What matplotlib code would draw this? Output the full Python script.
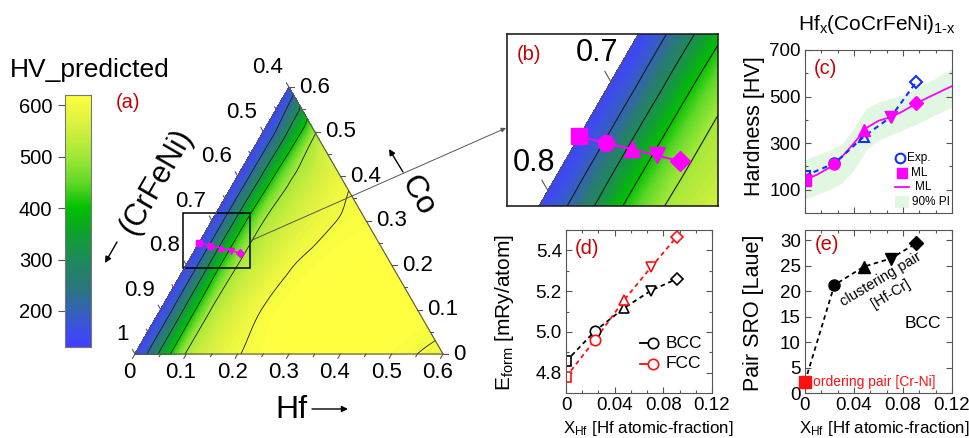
import numpy as np
import matplotlib
matplotlib.use('Agg')
import matplotlib.pyplot as plt
import matplotlib.tri as mtri
from matplotlib.colors import LinearSegmentedColormap, Normalize
from matplotlib.patches import Rectangle
from matplotlib.ticker import FixedLocator, AutoMinorLocator, NullFormatter, FixedFormatter

plt.rcParams['font.family'] = ['Liberation Sans', 'DejaVu Sans']
plt.rcParams['mathtext.fontset'] = 'custom'
plt.rcParams['mathtext.rm'] = 'Liberation Sans'
plt.rcParams['mathtext.it'] = 'Liberation Sans:italic'
plt.rcParams['mathtext.bf'] = 'Liberation Sans:bold'

# ---------------- data ----------------
x_hf = [0.0, 0.024, 0.048, 0.070, 0.091]          # Hf atomic fraction of the alloys
hv_exp = [160, 213, 328, 412, 564]
hv_ml = [140, 211, 355, 411, 471]
ml_x = [0.00, 0.01, 0.02, 0.03, 0.04, 0.05, 0.06, 0.07, 0.08, 0.09, 0.10, 0.11, 0.12]
ml_hv = [142, 165, 195, 240, 300, 365, 396, 412, 437, 468, 495, 520, 545]
pi_low = [60, 80, 100, 128, 185, 271, 312, 335, 357, 378, 405, 430, 457]
pi_high = [228, 250, 270, 295, 365, 450, 476, 492, 507, 532, 560, 590, 621]
ef_bcc = [4.855, 5.005, 5.118, 5.203, 5.260]
ef_fcc = [4.778, 4.962, 5.158, 5.318, 5.466]
sro_bcc = [2.2, 21.2, 24.8, 26.4, 29.4]

# predicted hardness map (rows: Co fraction, columns: Hf fraction; None = outside)
grid_hf = [0.0, 0.02, 0.04, 0.06, 0.08, 0.10, 0.15, 0.20, 0.25, 0.30, 0.35, 0.40, 0.45, 0.50, 0.55, 0.60]
grid_co = [0.0, 0.1, 0.2, 0.3, 0.4, 0.5, 0.6]
hv_map = [
    [140, 188, 278, 365, 440, 506, 566, 597, 614, 624, 630, 632, 625, 612, 600, 590],
    [140, 190, 280, 368, 442, 505, 565, 602, 618, 627, 631, 632, 628, 620, None, None],
    [140, 192, 283, 375, 446, 500, 555, 595, 612, 620, 622, 618, None, None, None, None],
    [140, 192, 282, 372, 444, 498, 550, 582, 602, 610, None, None, None, None, None, None],
    [140, 190, 275, 360, 430, 485, 545, 585, None, None, None, None, None, None, None, None],
    [140, 188, 270, 350, 420, 490, None, None, None, None, None, None, None, None, None, None],
    [140, None, None, None, None, None, None, None, None, None, None, None, None, None, None, None],
]
hv_levels = [200, 300, 400, 500, 600]

hf_ticks = [0.0, 0.1, 0.2, 0.3, 0.4, 0.5, 0.6]
hf_labels = ['0', '0.1', '0.2', '0.3', '0.4', '0.5', '0.6']
co_ticks = [0.0, 0.1, 0.2, 0.3, 0.4, 0.5, 0.6]
co_labels = ['0', '0.1', '0.2', '0.3', '0.4', '0.5', '0.6']
cfn_ticks = [0.4, 0.5, 0.6, 0.7, 0.8, 0.9, 1.0]
cfn_labels = ['0.4', '0.5', '0.6', '0.7', '0.8', '0.9', '1']

cb_ticks = [200, 300, 400, 500, 600]
xt = [0, 0.04, 0.08, 0.12]
xt_labels = ['0', '0.04', '0.08', '0.12']

# ---------------- styles ----------------
cmap_vals = [130, 160, 200, 250, 300, 350, 400, 450, 500, 560, 620]
cmap_cols = ['#4040ff', '#3c4ee8', '#3462b8', '#2a7878', '#1e8a5a', '#10a030',
             '#00c000', '#60d828', '#a0e838', '#d8f040', '#ffff40']
VMIN, VMAX = 130, 620
cmap = LinearSegmentedColormap.from_list(
    'hv', [((v - VMIN) / (VMAX - VMIN), c) for v, c in zip(cmap_vals, cmap_cols)])
cmap.set_over('#ffff40')
cmap.set_under('#4040ff')
norm = Normalize(VMIN, VMAX)
MAG = '#ff00ff'
BLUE = '#1030ff'
RED = '#ff1010'
LABRED = '#c80000'
markers = ['s', 'o', '^', 'v', 'D']

W, H = 970, 438
fig = plt.figure(figsize=(9.7, 4.38), dpi=100)

def px_rect(l, t, r, b):
    return [l / W, 1 - b / H, (r - l) / W, (b - t) / H]

def ftext(px, py, s, **kw):
    fig.text(px / W, 1 - py / H, s, **kw)

# ternary geometry: the triangle occupies px (135,354)-(443,354)-(289,88)
S = 308 / 0.6
X0, Y0 = 135, 354
SQ3 = np.sqrt(3) / 2

def txy(hf, co):
    return hf + co / 2, co * SQ3

def pd(px, py):
    return (px - X0) / S, (Y0 - py) / S

axT = fig.add_axes([0, 0, 1, 1])
axT.set_xlim(-X0 / S, (W - X0) / S)
axT.set_ylim((Y0 - H) / S, Y0 / S)
axT.axis('off')

# structured triangulation of the hardness map
idx = {}
px_, py_, pz_ = [], [], []
for i, co in enumerate(grid_co):
    for j, hf in enumerate(grid_hf):
        v = hv_map[i][j]
        if v is None:
            continue
        X, Y = txy(hf, co)
        idx[(i, j)] = len(px_)
        px_.append(X); py_.append(Y); pz_.append(v)
tris = []
ncol = len(grid_hf)
for i in range(len(grid_co) - 1):
    mi = max(j for j in range(ncol) if (i, j) in idx)
    mn = max(j for j in range(ncol) if (i + 1, j) in idx)
    for j in range(mn):
        tris.append([idx[(i, j)], idx[(i, j + 1)], idx[(i + 1, j)]])
        tris.append([idx[(i, j + 1)], idx[(i + 1, j + 1)], idx[(i + 1, j)]])
    for j in range(mn, mi):
        tris.append([idx[(i, j)], idx[(i, j + 1)], idx[(i + 1, mn)]])
tri = mtri.Triangulation(px_, py_, triangles=tris)
zz = np.array(pz_, float)
refiner = mtri.UniformTriRefiner(tri)
interp = mtri.CubicTriInterpolator(tri, zz, kind='geom')
tri_r, z_r = refiner.refine_field(zz, triinterpolator=interp, subdiv=4)

def draw_field(ax, clw):
    cs = ax.tricontourf(tri_r, z_r, levels=np.linspace(VMIN, VMAX, 70), cmap=cmap,
                        norm=norm, extend='both')
    cs.set_edgecolor('face')
    cs.set_linewidth(0.3)
    ax.tricontour(tri_r, z_r, levels=hv_levels, colors='#1a1a1a', linewidths=clw)
    ax.plot([0, 0.6, 0.3, 0], [0, 0, 0.6 * SQ3, 0], color='#555555', lw=0.8)
    for k in range(13):
        v = k * 0.05
        L = (5 if k % 2 == 0 else 3) / S
        X, Y = txy(v, 0)
        ax.plot([X, X - 0.5 * L], [Y, Y - SQ3 * L], color='#555555', lw=0.8)
        X, Y = txy(0.6 - v, v)
        ax.plot([X, X + L], [Y, Y], color='#555555', lw=0.8)
        X, Y = txy(0, v)
        ax.plot([X, X - 0.5 * L], [Y, Y + SQ3 * L], color='#555555', lw=0.8)

draw_field(axT, 0.6)

for v, lab in zip(hf_ticks, hf_labels):
    X, Y = txy(v, 0)
    axT.text(X - 5.5 / S, Y - 19 / S, lab, ha='center', va='center', fontsize=16)
for v, lab in zip(co_ticks, co_labels):
    X, Y = txy(0.6 - v, v)
    axT.text(X + 10 / S, Y, lab, ha='left', va='center', fontsize=16)
for c, lab in zip(cfn_ticks, cfn_labels):
    X, Y = txy(0, 1 - c)
    axT.text(X - 6 / S, Y + 19.5 / S, lab, ha='right', va='center', fontsize=16)

# composition path
tx = [txy(h, (1 - h) / 4)[0] for h in x_hf]
ty = [txy(h, (1 - h) / 4)[1] for h in x_hf]
axT.plot(tx, ty, color=MAG, lw=1.0)
for X, Y, m in zip(tx, ty, markers):
    axT.plot(X, Y, marker=m, color=MAG, ms=4.5, mec=MAG)

# zoom box and connector
bx0, by0 = pd(183, 268)
bx1, by1 = pd(250, 213)
axT.add_patch(Rectangle((bx0, by0), bx1 - bx0, by1 - by0, fill=False, ec='black', lw=1.1))
axT.annotate('', xy=pd(506, 128), xytext=pd(250, 241),
             arrowprops=dict(arrowstyle='-|>', color='#555555', lw=0.7, mutation_scale=7,
                             shrinkA=0, shrinkB=0))

# axis titles
arrow_kw = dict(arrowstyle='-|>', color='black', lw=1.0, mutation_scale=9, shrinkA=0, shrinkB=0)
axT.text(*pd(291, 410), 'Hf', ha='center', va='center', fontsize=23)
axT.annotate('', xy=pd(348, 409), xytext=pd(312, 409), arrowprops=arrow_kw)
axT.text(*pd(418, 196), 'Co', ha='center', va='center', fontsize=23, rotation=-60)
axT.annotate('', xy=pd(389, 149), xytext=pd(403, 172), arrowprops=arrow_kw)
axT.text(*pd(156, 182), '(CrFeNi)', ha='center', va='center', fontsize=22, rotation=60)
axT.annotate('', xy=pd(105, 263), xytext=pd(117, 242), arrowprops=arrow_kw)
axT.text(*pd(128, 103), '(a)', ha='center', va='center', fontsize=14.5, color=LABRED)

# colorbar (gradient image)
cax = fig.add_axes(px_rect(65, 95, 91, 347))
cax.imshow(np.linspace(VMIN, VMAX, 256)[:, None], aspect='auto', cmap=cmap, norm=norm,
           origin='lower', extent=[0, 1, VMIN, VMAX])
cax.set_xlim(0, 1)
cax.set_ylim(VMIN, VMAX)
cax.set_xticks([])
cax.yaxis.set_major_locator(FixedLocator(cb_ticks))
cax.yaxis.tick_left()
cax.tick_params(axis='y', direction='out', length=5, width=0.8, colors='#555555',
                labelcolor='black', labelsize=14.5, pad=4)
for s in cax.spines.values():
    s.set_color('#777777'); s.set_linewidth(0.8)
ftext(10, 70, 'HV_predicted', ha='left', va='center', fontsize=19)

# ---------------- panel (b) ----------------
axB = fig.add_axes(px_rect(507, 34, 718, 206))
draw_field(axB, 0.8)
axB.set_xlim(0.0674, 0.2351)
axB.set_ylim(0.1611, 0.2979)
axB.plot(tx, ty, color=MAG, lw=1.5)
for X, Y, m in zip(tx, ty, markers):
    axB.plot(X, Y, marker=m, color=MAG, ms=11.5 if m != 'D' else 10, mec=MAG)
axB.set_xticks([]); axB.set_yticks([])
for s in axB.spines.values():
    s.set_color('#222222'); s.set_linewidth(1.2)
axB.text((597 - 507) / 211, 1 - (53 - 34) / 172, '0.7', transform=axB.transAxes,
         ha='center', va='center', fontsize=22)
axB.text((534 - 507) / 211, 1 - (163 - 34) / 172, '0.8', transform=axB.transAxes,
         ha='center', va='center', fontsize=22)
axB.text((529 - 507) / 211, 1 - (55 - 34) / 172, '(b)', transform=axB.transAxes,
         ha='center', va='center', fontsize=14.5, color=LABRED)

def style_panel(ax):
    for s in ax.spines.values():
        s.set_color('#555555'); s.set_linewidth(0.8)
    ax.tick_params(which='both', direction='in', top=True, right=True, colors='#555555',
                   labelcolor='black', labelsize=13.5, pad=3, width=0.8)
    ax.tick_params(which='major', length=4)
    ax.tick_params(which='minor', length=2)

def afrac(rect, px, py):
    l, t, r, b = rect
    return (px - l) / (r - l), (b - py) / (b - t)

# ---------------- panel (c) ----------------
rc = (805, 50, 952, 213)
axC = fig.add_axes(px_rect(*rc))
axC.fill_between(ml_x, pi_low, pi_high, color='#e2f7e2', lw=0)
axC.plot(ml_x, ml_hv, color=MAG, lw=1.3)
axC.plot(x_hf, hv_exp, color=BLUE, lw=1.5, ls=(0, (2.5, 2)))
for x, y, m in zip(x_hf, hv_exp, markers):
    axC.plot(x, y, marker=m, ms=7.5 if m != 'D' else 6.5, mfc='none', mec=BLUE, mew=1.5)
for x, y, m in zip(x_hf, hv_ml, markers):
    axC.plot(x, y, marker=m, ms=8 if m != 'D' else 7, color=MAG, mec=MAG)
axC.set_xlim(0, 0.12)
axC.set_ylim(0, 700)
axC.xaxis.set_major_locator(FixedLocator(xt))
axC.xaxis.set_major_formatter(NullFormatter())
axC.xaxis.set_minor_locator(AutoMinorLocator(3))
axC.yaxis.set_major_locator(FixedLocator([100, 300, 500, 700]))
axC.yaxis.set_minor_locator(FixedLocator([200, 400, 600]))
style_panel(axC)
axC.text(*afrac(rc, 825, 68), '(c)', transform=axC.transAxes, ha='center', va='center',
         fontsize=14.5, color=LABRED)
axC.plot(*afrac(rc, 899.5, 158.5), transform=axC.transAxes, marker='o', ms=7, mfc='none',
         mec=BLUE, mew=1.5)
axC.text(*afrac(rc, 907.5, 158.5), 'Exp.', transform=axC.transAxes, ha='left', va='center', fontsize=8.5)
axC.plot(*afrac(rc, 901.5, 173.5), transform=axC.transAxes, marker='s', ms=7, color=MAG)
axC.text(*afrac(rc, 911.5, 173.5), 'ML', transform=axC.transAxes, ha='left', va='center', fontsize=8.5)
p1 = afrac(rc, 895, 187); p2 = afrac(rc, 909, 187)
axC.plot([p1[0], p2[0]], [p1[1], p2[1]], transform=axC.transAxes, color=MAG, lw=1.3)
axC.text(*afrac(rc, 915, 187), 'ML', transform=axC.transAxes, ha='left', va='center', fontsize=8.5)
q = afrac(rc, 895, 208.5); q2 = afrac(rc, 908.5, 196.5)
axC.add_patch(Rectangle(q, q2[0] - q[0], q2[1] - q[1], transform=axC.transAxes,
                        color='#e2f7e2', lw=0))
axC.text(*afrac(rc, 911.5, 202.5), '90% PI', transform=axC.transAxes, ha='left', va='center', fontsize=8.5)
ftext(877, 25, 'Hf$_{\\mathregular{x}}$(CoCrFeNi)$_{\\mathregular{1\u2010x}}$', ha='center',
      va='center', fontsize=15)
ftext(755, 126, 'Hardness [HV]', ha='center', va='center', rotation=90, fontsize=15.5)

# ---------------- panel (d) ----------------
rd = (566, 230, 712, 393)
axD = fig.add_axes(px_rect(*rd))
axD.plot(x_hf, ef_bcc, color='black', lw=1.3, ls=(0, (2.5, 2)))
axD.plot(x_hf, ef_fcc, color=RED, lw=1.3, ls=(0, (2.5, 2)))
for x, y, m in zip(x_hf, ef_bcc, markers):
    axD.plot(x, y, marker=m, ms=7.5 if m != 'D' else 6.5, mfc='white', mec='black', mew=1.2)
for x, y, m in zip(x_hf, ef_fcc, markers):
    axD.plot(x, y, marker=m, ms=7.5 if m != 'D' else 6.5, mfc='white', mec=RED, mew=1.2)
axD.set_xlim(0, 0.12)
axD.set_ylim(4.7, 5.5)
axD.xaxis.set_major_locator(FixedLocator(xt))
axD.xaxis.set_major_formatter(FixedFormatter(xt_labels))
axD.xaxis.set_minor_locator(AutoMinorLocator(3))
axD.yaxis.set_major_locator(FixedLocator([4.8, 5.0, 5.2, 5.4]))
axD.yaxis.set_major_formatter(FixedFormatter(['4.8', '5.0', '5.2', '5.4']))
axD.yaxis.set_minor_locator(FixedLocator([4.9, 5.1, 5.3, 5.5]))
style_panel(axD)
axD.text(*afrac(rd, 587, 249), '(d)', transform=axD.transAxes, ha='center', va='center',
         fontsize=14.5, color=LABRED)
for yy, col, lab in [(343, 'black', 'BCC'), (364, RED, 'FCC')]:
    a = afrac(rd, 640, yy); b = afrac(rd, 648, yy)
    axD.plot([a[0], b[0]], [a[1], b[1]], transform=axD.transAxes, color=col, lw=1.3)
    axD.plot(*afrac(rd, 652.5, yy), transform=axD.transAxes, marker='o', ms=7.5,
             mfc='white', mec=col, mew=1.2)
    axD.text(*afrac(rd, 666, yy), lab, transform=axD.transAxes, ha='left', va='center',
             fontsize=12.5, color='black')
ftext(505, 313, r'E$_{\mathregular{form}}$ [mRy/atom]', ha='center', va='center',
      rotation=90, fontsize=15)
ftext(648, 429, r'X$_{\mathregular{Hf}}$ [Hf atomic-fraction]', ha='center', va='center', fontsize=12.2)

# ---------------- panel (e) ----------------
re_ = (805, 230, 952, 393)
axE = fig.add_axes(px_rect(*re_))
axE.plot(x_hf, sro_bcc, color='black', lw=1.3, ls=(0, (2.5, 2)))
for i, (x, y, m) in enumerate(zip(x_hf, sro_bcc, markers)):
    col = RED if i == 0 else 'black'
    axE.plot(x, y, marker=m, ms=8 if m != 'D' else 7, color=col, mec=col, clip_on=False, zorder=5)
axE.set_xlim(0, 0.12)
axE.set_ylim(0, 32)
axE.xaxis.set_major_locator(FixedLocator(xt))
axE.xaxis.set_major_formatter(FixedFormatter(xt_labels))
axE.xaxis.set_minor_locator(AutoMinorLocator(3))
axE.yaxis.set_major_locator(FixedLocator([0, 5, 10, 15, 20, 25, 30]))
style_panel(axE)
axE.text(*afrac(re_, 827, 245), '(e)', transform=axE.transAxes, ha='center', va='center',
         fontsize=14.5, color=LABRED)
axE.text(*afrac(re_, 881, 279), 'clustering pair', transform=axE.transAxes, ha='center',
         va='center', fontsize=10.5, rotation=31)
axE.text(*afrac(re_, 891, 294), '[Hf-Cr]', transform=axE.transAxes, ha='center',
         va='center', fontsize=10.5, rotation=31)
axE.text(*afrac(re_, 923, 323), 'BCC', transform=axE.transAxes, ha='center', va='center',
         fontsize=12.5)
axE.text(*afrac(re_, 813, 382), 'ordering pair [Cr-Ni]', transform=axE.transAxes, ha='left',
         va='center', fontsize=10, color=RED)
ftext(754, 313, 'Pair SRO [Laue]', ha='center', va='center', rotation=90, fontsize=15.5)
ftext(884, 429, r'X$_{\mathregular{Hf}}$ [Hf atomic-fraction]', ha='center', va='center', fontsize=12.2)

fig.savefig('out.png', dpi=100)
